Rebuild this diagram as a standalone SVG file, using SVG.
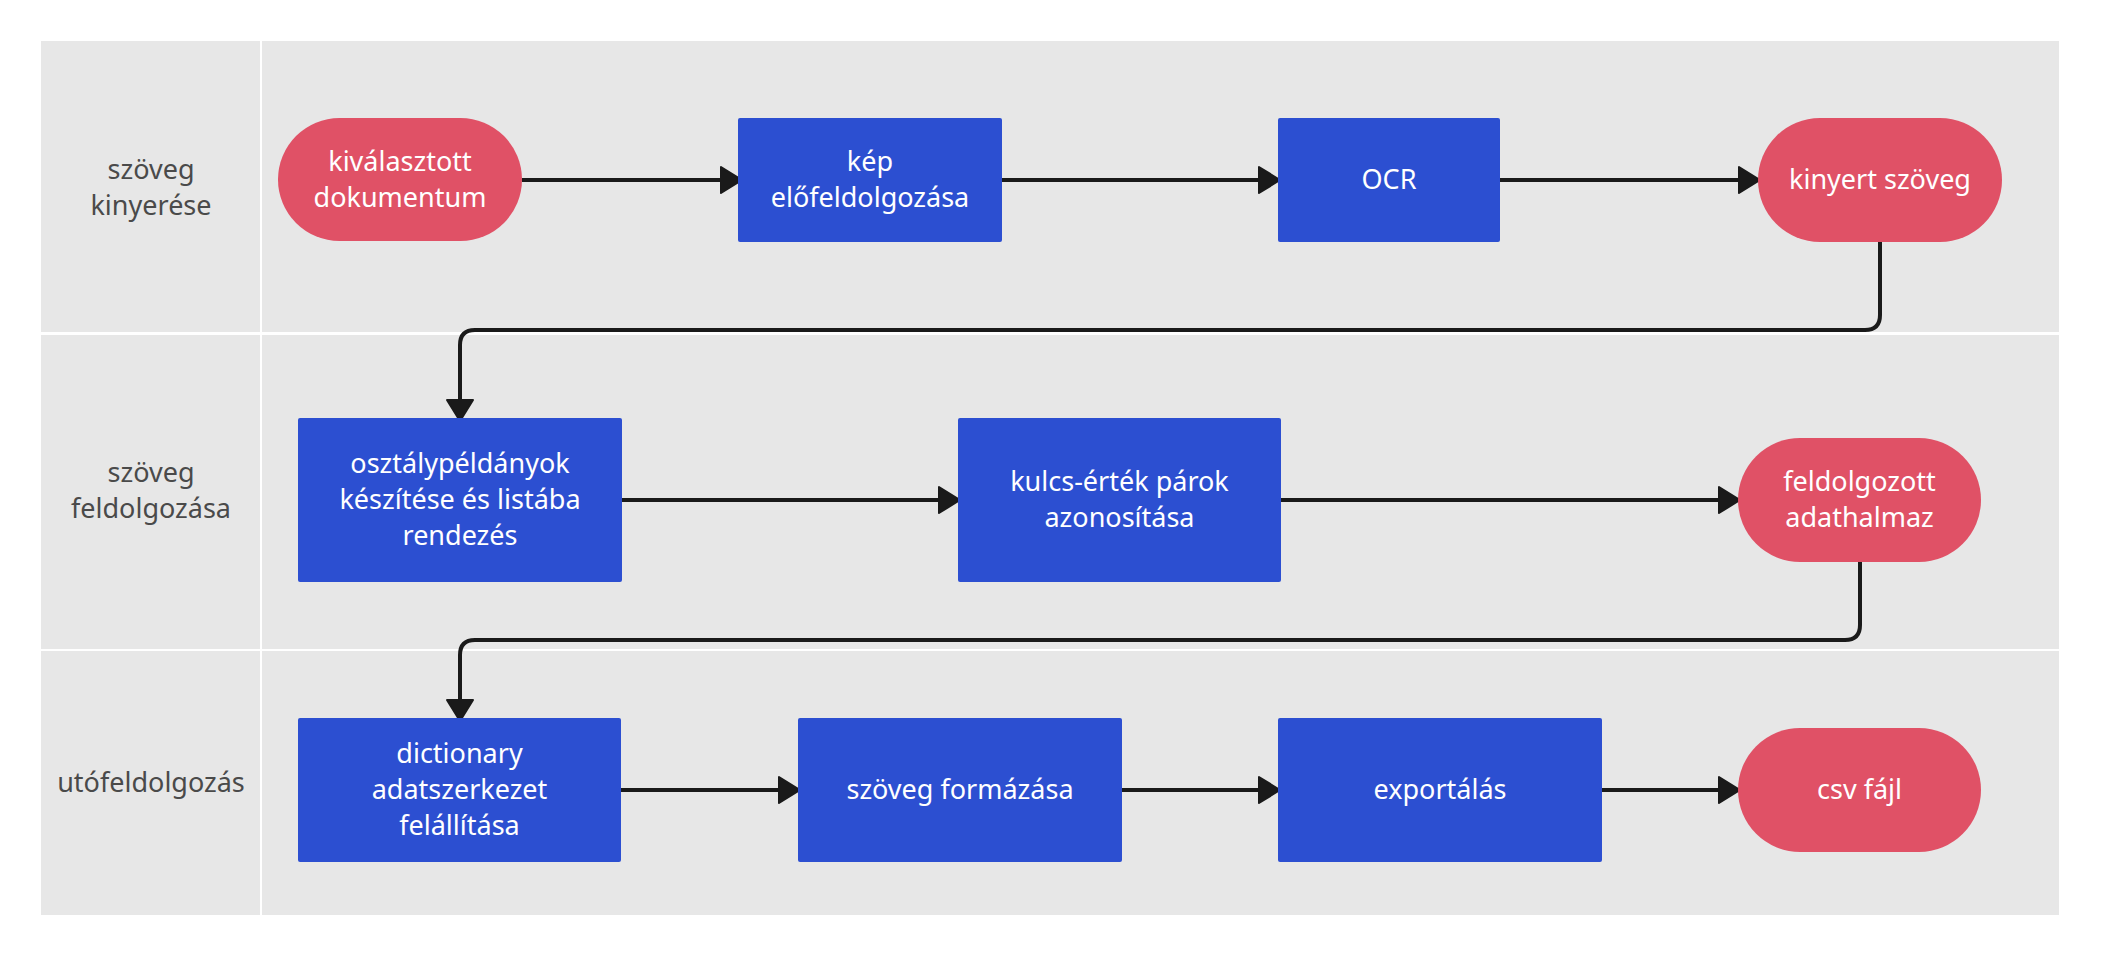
<svg xmlns="http://www.w3.org/2000/svg" width="2101" height="957" viewBox="0 0 2101 957">
<style>
  .lane { fill: #e7e7e7; }
  .lbl { font-family: "Noto Sans", "Open Sans", sans-serif; font-size: 27px; fill: #4a4a4a; text-anchor: middle; }
  .txt { font-family: "Noto Sans", "Open Sans", sans-serif; font-size: 27px; fill: #ffffff; text-anchor: middle; }
  .proc { fill: #2c4fd1; }
  .term { fill: #e05166; }
  .edge { fill: none; stroke: #1a1a1a; stroke-width: 4; stroke-linejoin: round; }
</style>
<defs>
  <marker id="arr" markerUnits="userSpaceOnUse" markerWidth="26" markerHeight="30" viewBox="0 0 26 30" refX="22" refY="15" orient="auto">
    <path d="M1,2 L22,15 L1,28 Z" fill="#1a1a1a" stroke="#1a1a1a" stroke-width="2" stroke-linejoin="round"/>
  </marker>
</defs>
<rect width="2101" height="957" fill="#ffffff"/>
<g id="lanes">
  <rect class="lane" x="41" y="41" width="219" height="291"/>
  <rect class="lane" x="262" y="41" width="1797" height="291"/>
  <rect class="lane" x="41" y="335" width="219" height="314"/>
  <rect class="lane" x="262" y="335" width="1797" height="314"/>
  <rect class="lane" x="41" y="651" width="219" height="264"/>
  <rect class="lane" x="262" y="651" width="1797" height="264"/>
  <text class="lbl" x="151" y="179">szöveg</text>
  <text class="lbl" x="151" y="215">kinyerése</text>
  <text class="lbl" x="151" y="482">szöveg</text>
  <text class="lbl" x="151" y="518">feldolgozása</text>
  <text class="lbl" x="151" y="792">utófeldolgozás</text>
</g>
<g id="connectors">
  <line class="edge" x1="522" y1="180" x2="742" y2="180" marker-end="url(#arr)"/>
  <line class="edge" x1="1002" y1="180" x2="1280" y2="180" marker-end="url(#arr)"/>
  <line class="edge" x1="1498" y1="180" x2="1760" y2="180" marker-end="url(#arr)"/>
  <path class="edge" d="M1880,239 L1880,315 Q1880,330 1865,330 L475,330 Q460,330 460,345 L460,421" marker-end="url(#arr)"/>
  <line class="edge" x1="622" y1="500" x2="960" y2="500" marker-end="url(#arr)"/>
  <line class="edge" x1="1281" y1="500" x2="1740" y2="500" marker-end="url(#arr)"/>
  <path class="edge" d="M1860,559 L1860,625 Q1860,640 1845,640 L475,640 Q460,640 460,655 L460,721" marker-end="url(#arr)"/>
  <line class="edge" x1="621" y1="790" x2="800" y2="790" marker-end="url(#arr)"/>
  <line class="edge" x1="1122" y1="790" x2="1280" y2="790" marker-end="url(#arr)"/>
  <line class="edge" x1="1602" y1="790" x2="1740" y2="790" marker-end="url(#arr)"/>
</g>
<g id="n1">
  <rect class="term" x="278" y="118" width="244" height="123" rx="61.5" ry="61.5"/>
  <text class="txt" x="400" y="171">kiválasztott</text>
  <text class="txt" x="400" y="207">dokumentum</text>
</g>
<g id="n2">
  <rect class="proc" x="738" y="118" width="264" height="124" rx="2"/>
  <text class="txt" x="870" y="171">kép</text>
  <text class="txt" x="870" y="207">előfeldolgozása</text>
</g>
<g id="n3">
  <rect class="proc" x="1278" y="118" width="222" height="124" rx="2"/>
  <text class="txt" x="1389" y="189">OCR</text>
</g>
<g id="n4">
  <rect class="term" x="1758" y="118" width="244" height="124" rx="62" ry="62"/>
  <text class="txt" x="1880" y="189">kinyert szöveg</text>
</g>
<g id="n5">
  <rect class="proc" x="298" y="418" width="324" height="164" rx="2"/>
  <text class="txt" x="460" y="473">osztálypéldányok</text>
  <text class="txt" x="460" y="509">készítése és listába</text>
  <text class="txt" x="460" y="545">rendezés</text>
</g>
<g id="n6">
  <rect class="proc" x="958" y="418" width="323" height="164" rx="2"/>
  <text class="txt" x="1119.5" y="491">kulcs-érték párok</text>
  <text class="txt" x="1119.5" y="527">azonosítása</text>
</g>
<g id="n7">
  <rect class="term" x="1738" y="438" width="243" height="124" rx="62" ry="62"/>
  <text class="txt" x="1859.5" y="491">feldolgozott</text>
  <text class="txt" x="1859.5" y="527">adathalmaz</text>
</g>
<g id="n8">
  <rect class="proc" x="298" y="718" width="323" height="144" rx="2"/>
  <text class="txt" x="459.5" y="763">dictionary</text>
  <text class="txt" x="459.5" y="799">adatszerkezet</text>
  <text class="txt" x="459.5" y="835">felállítása</text>
</g>
<g id="n9">
  <rect class="proc" x="798" y="718" width="324" height="144" rx="2"/>
  <text class="txt" x="960" y="799">szöveg formázása</text>
</g>
<g id="n10">
  <rect class="proc" x="1278" y="718" width="324" height="144" rx="2"/>
  <text class="txt" x="1440" y="799">exportálás</text>
</g>
<g id="n11">
  <rect class="term" x="1738" y="728" width="243" height="124" rx="62" ry="62"/>
  <text class="txt" x="1859.5" y="799">csv fájl</text>
</g>
</svg>
